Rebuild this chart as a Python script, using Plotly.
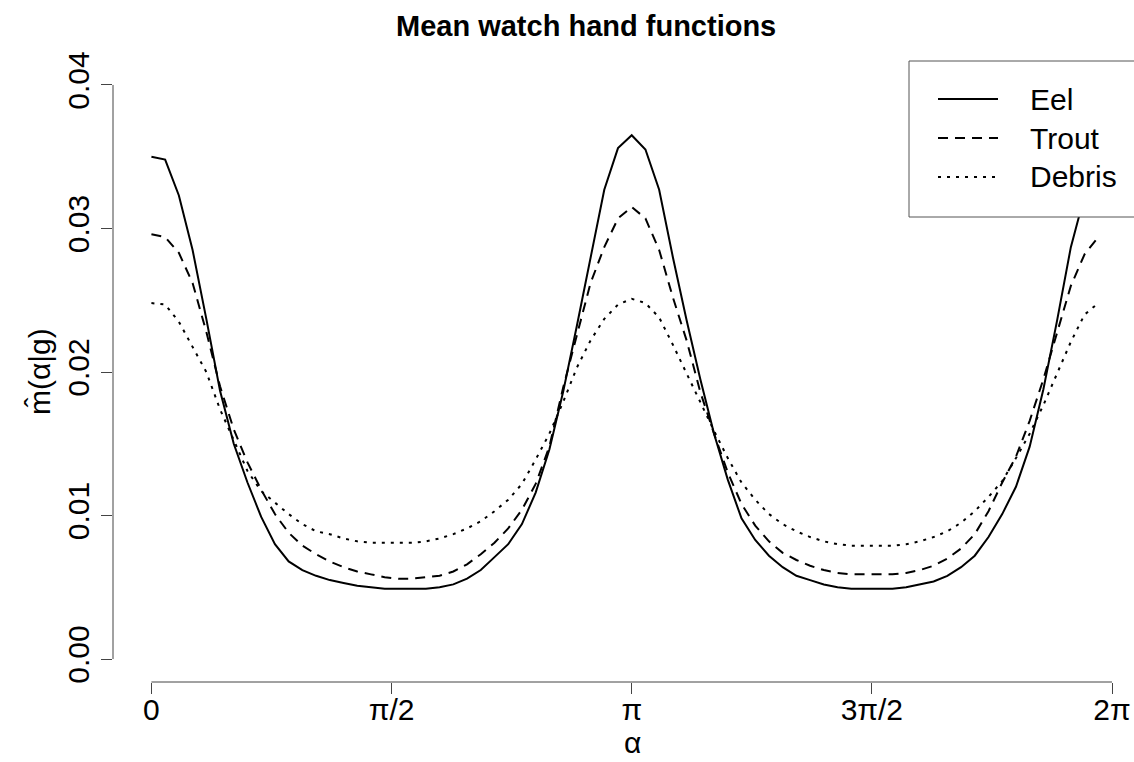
import numpy as np
import plotly.graph_objects as go

# Angular grid: 70 equally spaced angles on [0, 2*pi)
alpha = np.linspace(0, 2 * np.pi, 71)[:-1]

series_names = ["Eel", "Trout", "Debris"]

eel = [
    0.0350, 0.0348, 0.0323, 0.0285, 0.0237, 0.0187, 0.0150, 0.0123, 0.0099, 0.0080,
    0.0068, 0.0062, 0.0058, 0.0055, 0.0053, 0.0051, 0.0050, 0.0049, 0.0049, 0.0049,
    0.0049, 0.0050, 0.0052, 0.0056, 0.0062, 0.0071, 0.0080, 0.0094, 0.0116, 0.0146,
    0.0186, 0.0232, 0.0280, 0.0327, 0.0356, 0.0365, 0.0355, 0.0327, 0.0280, 0.0236,
    0.0195, 0.0157, 0.0125, 0.0098, 0.0083, 0.0072, 0.0064, 0.0058, 0.0055, 0.0052,
    0.0050, 0.0049, 0.0049, 0.0049, 0.0049, 0.0050, 0.0052, 0.0054, 0.0058, 0.0064,
    0.0072, 0.0085, 0.0101, 0.0120, 0.0148, 0.0188, 0.0236, 0.0287, 0.0323, 0.0346,
]

trout = [
    0.0296, 0.0294, 0.0283, 0.0262, 0.0228, 0.0190, 0.0160, 0.0137, 0.0118, 0.0101,
    0.0088, 0.0079, 0.0073, 0.0068, 0.0064, 0.0061, 0.0059, 0.0057, 0.0056, 0.0056,
    0.0057, 0.0058, 0.0061, 0.0066, 0.0073, 0.0081, 0.0091, 0.0104, 0.0122, 0.0148,
    0.0189, 0.0226, 0.0262, 0.0287, 0.0307, 0.0315, 0.0307, 0.0285, 0.0252, 0.0222,
    0.0186, 0.0157, 0.0130, 0.0108, 0.0093, 0.0082, 0.0074, 0.0069, 0.0065, 0.0062,
    0.0060, 0.0059, 0.0059, 0.0059, 0.0059, 0.0060, 0.0062, 0.0065, 0.0070, 0.0077,
    0.0087, 0.0103, 0.0123, 0.0141, 0.0166, 0.0195, 0.0228, 0.0260, 0.0282, 0.0294,
]

debris = [
    0.0248, 0.0247, 0.0235, 0.0218, 0.0200, 0.0174, 0.0153, 0.0131, 0.0117, 0.0109,
    0.0101, 0.0094, 0.0089, 0.0087, 0.0084, 0.0082, 0.0081, 0.0081, 0.0081, 0.0081,
    0.0082, 0.0084, 0.0087, 0.0091, 0.0096, 0.0103, 0.0111, 0.0122, 0.0139, 0.0157,
    0.0179, 0.0203, 0.0222, 0.0237, 0.0247, 0.0251, 0.0248, 0.0238, 0.0219, 0.0199,
    0.0178, 0.0159, 0.0140, 0.0123, 0.0111, 0.0101, 0.0094, 0.0089, 0.0085, 0.0082,
    0.0080, 0.0079, 0.0079, 0.0079, 0.0079, 0.0080, 0.0082, 0.0085, 0.0089, 0.0095,
    0.0103, 0.0113, 0.0124, 0.0140, 0.0157, 0.0177, 0.0199, 0.0221, 0.0240, 0.0248,
]

x_tickvals = [0, np.pi / 2, np.pi, 3 * np.pi / 2, 2 * np.pi]
x_ticktext = ["0", "π/2", "π", "3π/2", "2π"]
y_tickvals = [0.00, 0.01, 0.02, 0.03, 0.04]
y_ticktext = ["0.00", "0.01", "0.02", "0.03", "0.04"]

FONT = "Liberation Sans, Arial, Helvetica, sans-serif"
W, H = 1134, 762
ML, MR, MT, MB = 113, 0, 62, 80
dash_styles = ["solid", "10px,7px", "3px,6px"]


def px_x(p):
    return (p - ML) / (W - ML - MR)


def px_y(p):
    return (H - MB - p) / (H - MT - MB)


fig = go.Figure()
for name, vals, dash in zip(series_names, [eel, trout, debris], dash_styles):
    fig.add_trace(go.Scatter(
        x=alpha, y=vals, mode="lines", name=name,
        line=dict(color="black", width=2, dash=dash),
        showlegend=False,
    ))

shapes = [
    # axis lines spanning only the tick range
    dict(type="line", xref="x", yref="paper", x0=0, x1=2 * np.pi, y0=0, y1=0,
         line=dict(color="#444", width=1)),
    dict(type="line", xref="paper", yref="y", x0=0, x1=0, y0=0, y1=0.04,
         line=dict(color="#444", width=1)),
    # legend box
    dict(type="rect", xref="paper", yref="paper",
         x0=px_x(909), x1=px_x(1160), y0=px_y(217), y1=px_y(61),
         fillcolor="white", line=dict(color="#555", width=1), layer="above"),
]

annotations = []
legend_rows = [99, 138, 177]
for name, dash, yrow in zip(series_names, dash_styles, legend_rows):
    shapes.append(dict(type="line", xref="paper", yref="paper",
                       x0=px_x(938), x1=px_x(998), y0=px_y(yrow), y1=px_y(yrow),
                       line=dict(color="black", width=2, dash=dash), layer="above"))
    annotations.append(dict(xref="paper", yref="paper", x=px_x(1028), y=px_y(yrow),
                            text=name, showarrow=False, xanchor="left", yanchor="middle",
                            font=dict(family=FONT, size=30, color="black")))

annotations += [
    dict(xref="paper", yref="paper", x=px_x(586), y=px_y(26),
         text="<b>Mean watch hand functions</b>", showarrow=False,
         xanchor="center", yanchor="middle",
         font=dict(family=FONT, size=29, color="black")),
    dict(xref="paper", yref="paper", x=px_x(632), y=px_y(761),
         text="α", showarrow=False, xanchor="center", yanchor="bottom",
         font=dict(family=FONT, size=30, color="black")),
    dict(xref="paper", yref="paper", x=px_x(39), y=0.5,
         text="m\u0302(α|g)", showarrow=False, textangle=-90,
         xanchor="center", yanchor="middle",
         font=dict(family=FONT, size=30, color="black")),
]

fig.update_layout(
    width=W, height=H,
    margin=dict(l=ML, r=MR, t=MT, b=MB, pad=0),
    paper_bgcolor="white", plot_bgcolor="white",
    shapes=shapes, annotations=annotations,
    xaxis=dict(range=[-0.04 * 2 * np.pi, (W - 151) / (961 / (2 * np.pi))],
               showgrid=False, zeroline=False, showline=False,
               ticks="outside", ticklen=11, tickwidth=1, tickcolor="#444",
               tickvals=x_tickvals, ticktext=x_ticktext, ticklabelstandoff=-10,
               tickfont=dict(family=FONT, size=30, color="black")),
    yaxis=dict(range=[-0.0016, 0.0416],
               showgrid=False, zeroline=False, showline=False,
               ticks="outside", ticklen=11, tickwidth=1, tickcolor="#444",
               tickvals=y_tickvals, ticktext=y_ticktext, tickangle=-90,
               tickfont=dict(family=FONT, size=30, color="black")),
)

fig.write_html("out.html")
